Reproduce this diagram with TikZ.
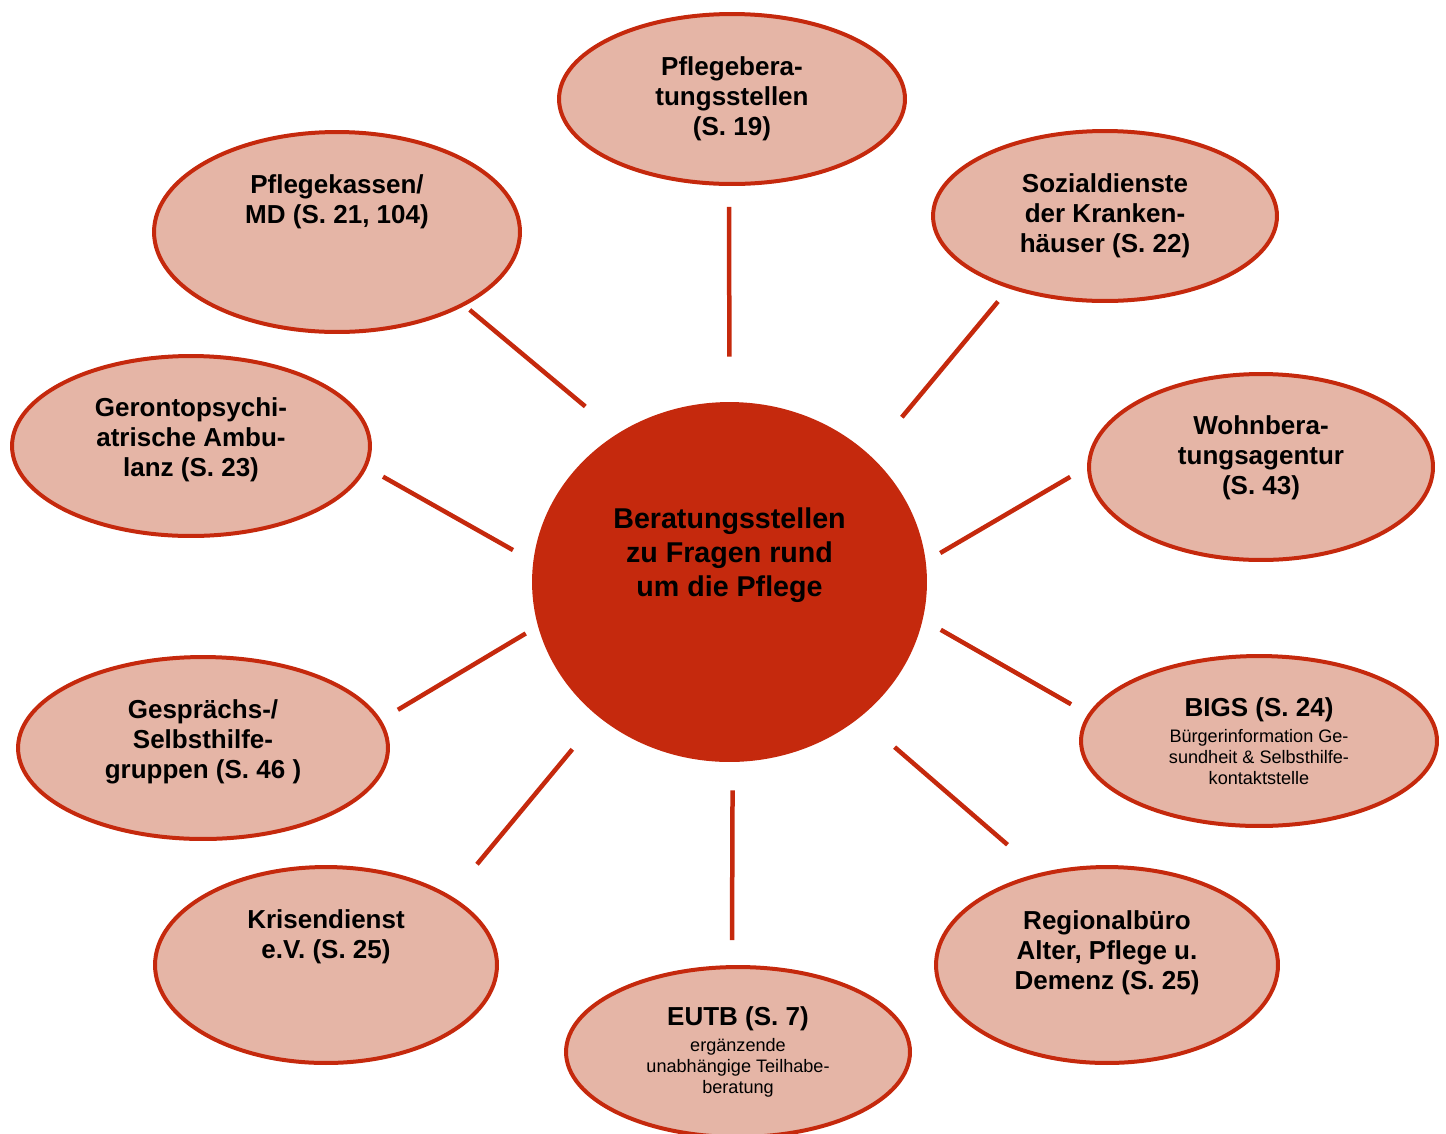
\documentclass[tikz,border=0pt]{standalone}
\usepackage{fontspec}
\setmainfont{Liberation Sans}
\usetikzlibrary{shapes.geometric}
\definecolor{rimred}{HTML}{C5290D}
\definecolor{bubblefill}{HTML}{E5B5A6}
\newcommand\boldtxt{\fontsize{14.8}{17.2}\selectfont\bfseries}
\newcommand\hubtxt{\fontsize{16.3}{19.3}\selectfont\bfseries}
\newcommand\smalltxt{\fontsize{10.3}{11.9}\selectfont}
\begin{document}
\begin{tikzpicture}[x=0.02cm,y=-0.02cm]
	\tikzstyle{every node}+=[inner sep=0pt]
	\tikzstyle{bubble}=[ellipse, draw=rimred, fill=bubblefill, line width=0.08cm]
	\tikzstyle{spoke}=[draw=rimred, line width=0.09cm]
	\tikzstyle{every label}=[align=center, font=\boldtxt]
	\useasboundingbox (0,0) rectangle (1446,1133);
	\node [ellipse, fill=rimred, minimum width=7.9cm, minimum height=7.2cm, label={[font=\hubtxt, yshift=0.54cm]center:{Beratungsstellen\\zu Fragen rund\\um die Pflege}}] (hub) at (729.5,582) {};
	\node [bubble, minimum width=6.92cm, minimum height=3.4cm, label={center:{Pflegebera-\\tungsstellen\\(S. 19)}}] (pber) at (732,99) {};
	\node [bubble, minimum width=7.32cm, minimum height=4cm, label={[yshift=0.6cm]center:{Pflegekassen/\\MD (S. 21, 104)}}] (pkas) at (337,232) {};
	\node [bubble, minimum width=6.88cm, minimum height=3.4cm, label={center:{Sozialdienste\\der Kranken-\\häuser (S. 22)}}] (sozd) at (1105,216) {};
	\node [bubble, minimum width=7.16cm, minimum height=3.6cm, label={[yshift=0.12cm]center:{Gerontopsychi-\\atrische Ambu-\\lanz (S. 23)}}] (geron) at (191,446) {};
	\node [bubble, minimum width=6.88cm, minimum height=3.72cm, label={[yshift=0.18cm]center:{Wohnbera-\\tungsagentur\\(S. 43)}}] (wohn) at (1261,467) {};
	\node [bubble, minimum width=7.4cm, minimum height=3.64cm, label={[yshift=0.12cm]center:{Gesprächs-/\\Selbsthilfe-\\gruppen (S. 46 )}}] (gespr) at (203,748) {};
	\node [bubble, minimum width=7.12cm, minimum height=3.4cm, label={[font=\smalltxt]center:{{\boldtxt BIGS (S. 24)}\\[2.7pt]Bürgerinformation Ge-\\sundheit \& Selbsthilfe-\\kontaktstelle}}] (bigs) at (1259,741) {};
	\node [bubble, minimum width=6.84cm, minimum height=3.92cm, label={[yshift=0.56cm]center:{Krisendienst\\e.V. (S. 25)}}] (kris) at (326,965) {};
	\node [bubble, minimum width=6.84cm, minimum height=3.92cm, label={[yshift=0.24cm]center:{Regionalbüro\\Alter, Pflege u.\\Demenz (S. 25)}}] (regio) at (1107,965) {};
	\node [bubble, minimum width=6.88cm, minimum height=3.4cm, label={[font=\smalltxt]center:{{\boldtxt EUTB (S. 7)}\\[2.7pt]ergänzende\\unabhängige Teilhabe-\\beratung}}] (eutb) at (738,1052) {};
	\draw [spoke, shorten <=0.90cm, shorten >=0.42cm] (hub.90) -- (pber.-92);
	\draw [spoke, shorten <=0.84cm, shorten >=0.13cm] (hub.127.9) -- (pkas.-30.7);
	\draw [spoke, shorten <=0.99cm, shorten >=0.34cm] (hub.42.2) -- (sozd.-143.5);
	\draw [spoke, shorten <=0.46cm, shorten >=0.37cm] (hub.174.6) -- (geron.-7);
	\draw [spoke, shorten <=0.33cm, shorten >=0.39cm] (hub.6.3) -- (wohn.180);
	\draw [spoke, shorten <=0.28cm, shorten >=0.39cm] (hub.-167.1) -- (gespr.9.7);
	\draw [spoke, shorten <=0.41cm, shorten >=0.39cm] (hub.-11.4) -- (bigs.171.6);
	\draw [spoke, shorten <=0.83cm, shorten >=0.82cm] (hub.-134.5) -- (kris.29.9);
	\draw [spoke, shorten <=0.91cm, shorten >=0.86cm] (hub.-46.7) -- (regio.126.2);
	\draw [spoke, shorten <=0.56cm, shorten >=0.50cm] (hub.-89) -- (eutb.94);
\end{tikzpicture}
\end{document}
